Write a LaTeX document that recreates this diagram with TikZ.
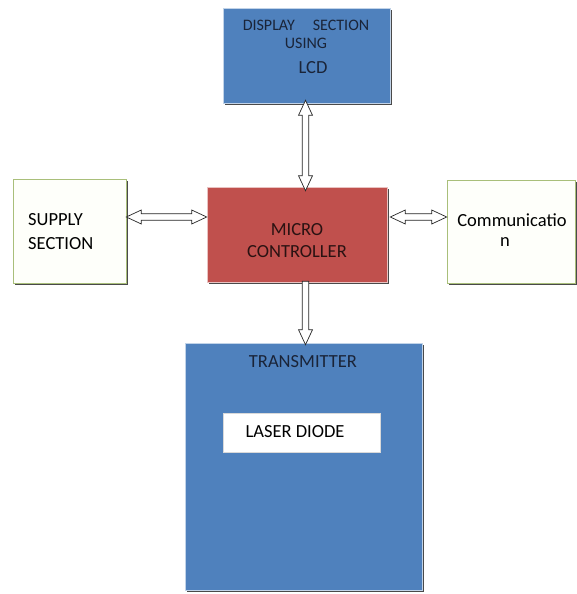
\documentclass[tikz,border=0pt]{standalone}
\usepackage{fontspec}
\setmainfont{Carlito}
\usetikzlibrary{calc,shadows}

\definecolor{boxblue}{HTML}{4F81BD}
\definecolor{boxred}{HTML}{C0504D}
\definecolor{navytext}{HTML}{1A2438}
\definecolor{redtext}{HTML}{2A1212}
\definecolor{greenedge}{HTML}{A9BF7A}
\definecolor{paleback}{HTML}{FEFFFA}
\definecolor{shadowgray}{HTML}{4A4A4A}

\tikzset{
  block/.style={rectangle, inner sep=0pt, line width=0.6pt,
    drop shadow={shadow xshift=1.6pt, shadow yshift=-1.6pt, fill=shadowgray, opacity=1}},
  bluebox/.style={block, fill=boxblue, draw=boxblue!35!white},
  redbox/.style={block, fill=boxred, draw=boxred!35!white},
  palebox/.style={block, fill=paleback, draw=greenedge},
  whitebox/.style={rectangle, inner sep=0pt, fill=white, draw=gray!30, line width=0.5pt},
  lbl/.style={inner sep=0pt, font=\fontsize{18.5}{20}\selectfont},
  smalllbl/.style={inner sep=0pt, font=\fontsize{16}{18}\selectfont},
  hollow/.style={draw=black!85, fill=white, line width=0.7pt, line join=miter},
}

% hollow double-headed block arrow between two points
\newcommand\twowayarrow[2]{%
  \draw[hollow] (#1)
    -- ($(#1)!15pt!(#2)!7pt!90:(#2)$)
    -- ($(#1)!15pt!(#2)!3.3pt!90:(#2)$)
    -- ($(#2)!15pt!(#1)!3.3pt!-90:(#1)$)
    -- ($(#2)!15pt!(#1)!7pt!-90:(#1)$)
    -- (#2)
    -- ($(#2)!15pt!(#1)!7pt!90:(#1)$)
    -- ($(#2)!15pt!(#1)!3.3pt!90:(#1)$)
    -- ($(#1)!15pt!(#2)!3.3pt!-90:(#2)$)
    -- ($(#1)!15pt!(#2)!7pt!-90:(#2)$)
    -- cycle;}

% hollow single-headed block arrow, head at the second point
\newcommand\onewayarrow[2]{%
  \draw[hollow] ($(#1)!3.3pt!90:(#2)$)
    -- ($(#2)!15pt!(#1)!3.3pt!-90:(#1)$)
    -- ($(#2)!15pt!(#1)!7pt!-90:(#1)$)
    -- (#2)
    -- ($(#2)!15pt!(#1)!7pt!90:(#1)$)
    -- ($(#2)!15pt!(#1)!3.3pt!90:(#1)$)
    -- ($(#1)!3.3pt!-90:(#2)$)
    -- cycle;}

\begin{document}
\begin{tikzpicture}[x=1pt, y=-1pt]
  \useasboundingbox[fill=white] (0,0) rectangle (576,594);

  % blocks
  \node[bluebox, minimum width=167pt, minimum height=95pt] (disp) at (306.5,55.5) {};
  \node[palebox, minimum width=113pt, minimum height=104pt] (supply) at (69.5,231) {};
  \node[redbox, minimum width=180pt, minimum height=95pt] (micro) at (297,234.5) {};
  \node[palebox, minimum width=128pt, minimum height=103pt] (comm) at (511,231.5) {};
  \node[bluebox, minimum width=237pt, minimum height=247pt] (trans) at (303.5,466.5) {};
  \node[whitebox, minimum width=157pt, minimum height=39pt] (laser) at (301.5,432.5) {};

  % labels
  \node[smalllbl, text=navytext] (dispA) at (306,25) {DISPLAY\hspace{0.9em} SECTION};
  \node[smalllbl, text=navytext] (dispB) at (306,43.5) {USING};
  \node[lbl, text=navytext] (dispC) at (313,68) {LCD};
  \node[lbl, anchor=west] (supA) at (28,220) {SUPPLY};
  \node[lbl, anchor=west] (supB) at (28,243.5) {SECTION};
  \node[lbl, text=redtext] (micA) at (297,230) {MICRO};
  \node[lbl, text=redtext] (micB) at (297,252) {CONTROLLER};
  \node[lbl] (comA) at (512,220) {Communicatio};
  \node[lbl] (comB) at (505,242) {n};
  \node[lbl, text=navytext] (trA) at (303,362) {TRANSMITTER};
  \node[lbl] (laA) at (295,432) {LASER DIODE};

  % connector end points on the block edges
  \coordinate (busrow) at (0,217);
  \coordinate (lcdtip) at ($(disp.south)+(-1,-3)$);
  \coordinate (mctop) at ($(lcdtip |- micro.north)+(0,4)$);
  \coordinate (mcbot) at ($(lcdtip |- micro.south)+(0,-1)$);
  \coordinate (trtop) at ($(lcdtip |- trans.north)+(0,2)$);
  \coordinate (supR) at (supply.east |- busrow);
  \coordinate (mcL) at (micro.west |- busrow);
  \coordinate (mcR) at ($(micro.east |- busrow)+(3,0)$);
  \coordinate (comL) at (comm.west |- busrow);

  % connectors
  \twowayarrow{lcdtip}{mctop}
  \twowayarrow{supR}{mcL}
  \twowayarrow{mcR}{comL}
  \onewayarrow{mcbot}{trtop}
\end{tikzpicture}
\end{document}
